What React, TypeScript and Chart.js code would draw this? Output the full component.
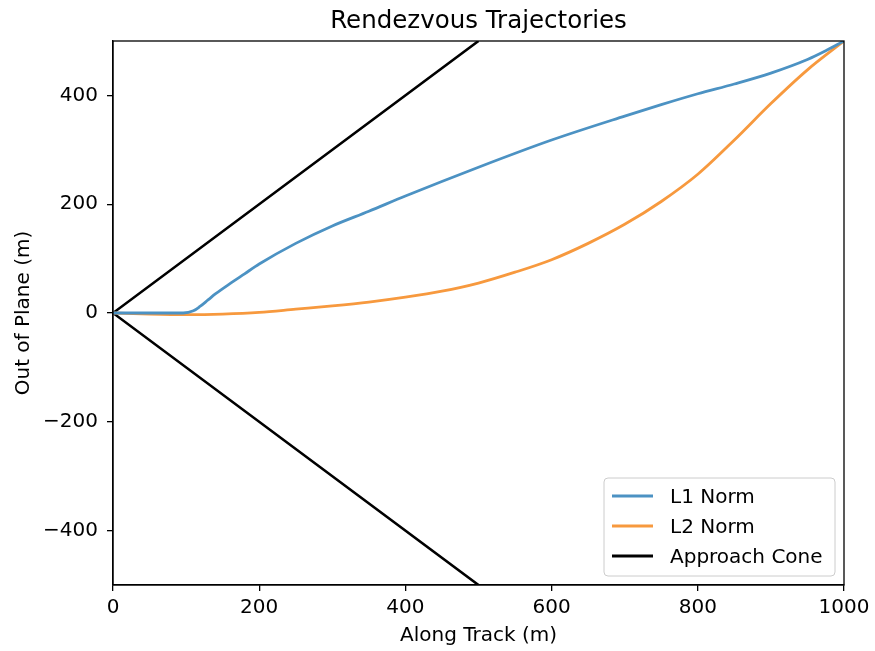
import React, { useEffect, useRef } from 'react';
import { Chart, registerables } from 'chart.js';

Chart.register(...registerables);

// L1 Norm trajectory (along track m, out of plane m)
const l1Along = [0, 50, 96, 110, 119, 130, 140, 160, 180, 200, 250, 300, 350, 400, 500, 600, 700, 750, 800, 850, 900, 950, 975, 1000];
const l1Out = [0, 0, 0, 4, 12, 24, 35, 54, 72, 90, 128, 160, 187, 215, 268, 318, 362, 383, 403, 421, 441, 466, 482, 500];

// L2 Norm trajectory
const l2Along = [0, 50, 100, 150, 200, 250, 300, 350, 400, 450, 500, 550, 600, 650, 700, 750, 800, 850, 900, 950, 1000];
const l2Out = [0, -2, -3, -2, 1, 7, 13, 20, 29, 40, 55, 75, 98, 128, 163, 205, 255, 318, 385, 447, 500];

// Approach cone
const coneAlong = [500, 0, 500];
const coneOut = [500, 0, -500];

const xTicks = [0, 200, 400, 600, 800, 1000];
const yTicks = [-400, -200, 0, 200, 400];

const chartTitle = 'Rendezvous Trajectories';
const xTitle = 'Along Track (m)';
const yTitle = 'Out of Plane (m)';
const seriesNames = ['L1 Norm', 'L2 Norm', 'Approach Cone'];
const seriesColors = ['rgb(76,146,195)', 'rgb(247,153,62)', '#000000'];

const FONT = "'DejaVu Sans', sans-serif";

const toPts = (xs: number[], ys: number[]) => xs.map((x, i) => ({ x, y: ys[i] }));
const fmt = (v: number) => (v < 0 ? '\u2212' + Math.abs(v) : String(v));

export default function App() {
  const ref = useRef<HTMLCanvasElement>(null);

  useEffect(() => {
    const canvas = ref.current!;

    const framePlugin = {
      id: 'frame',
      afterDatasetsDraw(chart: any) {
        const { ctx, chartArea: a } = chart;
        ctx.save();
        ctx.strokeStyle = '#000';
        ctx.lineWidth = 1.3;
        ctx.strokeRect(a.left, a.top, a.right - a.left, a.bottom - a.top);
        ctx.restore();
      },
    };

    const titlePlugin = {
      id: 'mplTitle',
      afterDraw(chart: any) {
        const { ctx, chartArea: a } = chart;
        ctx.save();
        ctx.font = `24.5px ${FONT}`;
        ctx.fillStyle = '#000';
        ctx.textAlign = 'center';
        ctx.textBaseline = 'alphabetic';
        ctx.fillText(chartTitle, (a.left + a.right) / 2, 28);
        ctx.restore();
      },
    };

    const legendPlugin = {
      id: 'mplLegend',
      afterDraw(chart: any) {
        const { ctx, chartArea: a } = chart;
        const boxRight = a.right - 9;
        const boxBottom = a.bottom - 9;
        const boxW = 231;
        const boxH = 98;
        const x0 = boxRight - boxW;
        const y0 = boxBottom - boxH;
        ctx.save();
        ctx.beginPath();
        (ctx as any).roundRect(x0, y0, boxW, boxH, 4);
        ctx.fillStyle = 'rgba(255,255,255,0.8)';
        ctx.fill();
        ctx.strokeStyle = '#cccccc';
        ctx.lineWidth = 1;
        ctx.stroke();
        ctx.font = `20px ${FONT}`;
        ctx.textBaseline = 'alphabetic';
        ctx.textAlign = 'left';
        seriesNames.forEach((name, i) => {
          const cy = y0 + 18 + i * 30;
          ctx.beginPath();
          ctx.moveTo(x0 + 8, cy);
          ctx.lineTo(x0 + 49, cy);
          ctx.strokeStyle = seriesColors[i];
          ctx.lineWidth = 2.8;
          ctx.stroke();
          ctx.fillStyle = '#000';
          ctx.fillText(name, x0 + 66, cy + 7);
        });
        ctx.restore();
      },
    };

    const tickFont = { family: FONT, size: 20 };

    const chart = new Chart(canvas, {
      type: 'scatter',
      data: {
        datasets: [
          {
            label: seriesNames[0],
            data: toPts(l1Along, l1Out),
            showLine: true,
            borderColor: seriesColors[0],
            borderWidth: 2.8,
            pointRadius: 0,
            cubicInterpolationMode: 'monotone',
          },
          {
            label: seriesNames[1],
            data: toPts(l2Along, l2Out),
            showLine: true,
            borderColor: seriesColors[1],
            borderWidth: 2.8,
            pointRadius: 0,
            cubicInterpolationMode: 'monotone',
          },
          {
            label: seriesNames[2],
            data: toPts(coneAlong, coneOut),
            showLine: true,
            borderColor: seriesColors[2],
            borderWidth: 2.6,
            pointRadius: 0,
          },
        ],
      } as any,
      options: {
        animation: false,
        responsive: false,
        layout: { padding: { left: 0, right: 31, top: 41, bottom: 0 } },
        plugins: {
          legend: { display: false },
          tooltip: { enabled: false },
          title: { display: false },
        },
        scales: {
          x: {
            type: 'linear',
            min: 0,
            max: 1000,
            afterBuildTicks: (s: any) => {
              s.ticks = xTicks.map((v) => ({ value: v }));
            },
            afterFit: (s: any) => {
              s.height = 66;
            },
            ticks: {
              color: '#000',
              font: tickFont,
              padding: 5,
              maxRotation: 0,
              autoSkip: false,
              callback: (v: any) => fmt(Number(v)),
            },
            grid: {
              display: true,
              drawOnChartArea: false,
              drawTicks: true,
              tickLength: 6,
              color: '#000',
              lineWidth: 1.3,
            },
            border: { display: true, color: '#000', width: 1.3 },
            title: {
              display: true,
              text: xTitle,
              color: '#000',
              font: tickFont,
              padding: { top: 0, bottom: 3 },
            },
          },
          y: {
            type: 'linear',
            min: -500,
            max: 500,
            afterBuildTicks: (s: any) => {
              s.ticks = yTicks.map((v) => ({ value: v }));
            },
            afterFit: (s: any) => {
              s.width = 113;
            },
            ticks: {
              color: '#000',
              font: tickFont,
              padding: 9,
              autoSkip: false,
              callback: (v: any) => fmt(Number(v)),
            },
            grid: {
              display: true,
              drawOnChartArea: false,
              drawTicks: true,
              tickLength: 6,
              color: '#000',
              lineWidth: 1.3,
            },
            border: { display: true, color: '#000', width: 1.3 },
            title: {
              display: true,
              text: yTitle,
              color: '#000',
              font: tickFont,
              padding: { top: 12, bottom: 0 },
            },
          },
        },
      } as any,
      plugins: [framePlugin, titlePlugin, legendPlugin],
    });

    return () => chart.destroy();
  }, []);

  return (
    <div style={{ position: 'absolute', left: 0, top: 0, width: 875, height: 651, background: '#fff' }}>
      <canvas ref={ref} width={875} height={651} style={{ width: 875, height: 651, display: 'block' }} />
    </div>
  );
}
